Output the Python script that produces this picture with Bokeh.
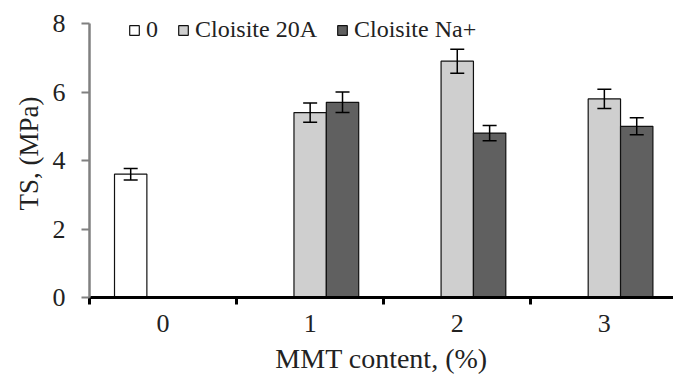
from bokeh.plotting import figure
from bokeh.models import ColumnDataSource, Range1d, FixedTicker, Whisker, TeeHead, Legend, LegendItem
from bokeh.embed import file_html
from bokeh.resources import INLINE

categories = ["0", "1", "2", "3"]
series_names = ["0", "Cloisite 20A", "Cloisite Na+"]
vals_0 = [3.6, None, None, None]
err_0 = [0.17, None, None, None]
vals_20a = [None, 5.4, 6.9, 5.8]
err_20a = [None, 0.28, 0.35, 0.28]
vals_na = [None, 5.7, 4.8, 5.0]
err_na = [None, 0.3, 0.22, 0.25]
colors = ["#ffffff", "#cfcfcf", "#606060"]
offsets = [-0.22, 0.0, 0.22]
bar_w = 0.22

FONT = "Liberation Serif"

p = figure(width=673, height=383, output_backend="svg", toolbar_location=None,
           x_range=Range1d(0, 3.97), y_range=Range1d(0, 8.41),
           min_border_left=89, min_border_right=0, min_border_top=9, min_border_bottom=86)
p.outline_line_color = None
p.xgrid.visible = False
p.ygrid.visible = False
p.background_fill_color = "white"

renderers = []
for vals, errs, col, off in zip([vals_0, vals_20a, vals_na], [err_0, err_20a, err_na], colors, offsets):
    xs, ys, ups, los = [], [], [], []
    for i, (v, e) in enumerate(zip(vals, errs)):
        if v is None:
            continue
        xs.append(i + 0.5 + off)
        ys.append(v)
        ups.append(v + e)
        los.append(v - e)
    src = ColumnDataSource(dict(x=xs, top=ys, upper=ups, lower=los))
    r = p.vbar(x="x", top="top", width=bar_w, source=src, fill_color=col,
               line_color="#111111", line_width=1.2)
    renderers.append(r)
    w = Whisker(base="x", upper="upper", lower="lower", source=src, level="overlay",
                line_color="black", line_width=1.5,
                upper_head=TeeHead(size=14, line_color="black", line_width=1.5),
                lower_head=TeeHead(size=14, line_color="black", line_width=1.5))
    p.add_layout(w)

legend = Legend(items=[LegendItem(label=n, renderers=[r]) for n, r in zip(series_names, renderers)],
                orientation="horizontal", location=(39, 254),
                background_fill_alpha=0, border_line_alpha=0, padding=0, margin=0,
                glyph_width=12, glyph_height=12, label_height=24, label_width=12,
                label_standoff=6, spacing=19,
                label_text_font=FONT, label_text_font_size="24px", label_text_color="#222222")
p.add_layout(legend)

# x axis
p.xaxis.ticker = FixedTicker(ticks=[i + 0.5 for i in range(len(categories))],
                             minor_ticks=[float(i) for i in range(len(categories))])
p.xaxis.major_label_overrides = {i + 0.5: c for i, c in enumerate(categories)}
p.xaxis.major_tick_out = 0
p.xaxis.major_tick_in = 0
p.xaxis.minor_tick_out = 7
p.xaxis.minor_tick_in = 0
p.xaxis.minor_tick_line_color = "black"
p.xaxis.minor_tick_line_width = 3
p.xaxis.axis_line_color = "black"
p.xaxis.axis_line_width = 3
p.xaxis.major_label_standoff = 10
p.xaxis.major_label_text_font = FONT
p.xaxis.major_label_text_font_size = "26px"
p.xaxis.major_label_text_color = "#222222"
p.xaxis.axis_label = "MMT content, (%)"
p.xaxis.axis_label_text_font = FONT
p.xaxis.axis_label_text_font_size = "28px"
p.xaxis.axis_label_text_font_style = "normal"
p.xaxis.axis_label_text_color = "#222222"
p.xaxis.axis_label_standoff = 8

# y axis
p.yaxis.ticker = FixedTicker(ticks=[0, 2, 4, 6, 8], minor_ticks=[])
p.yaxis.bounds = (0, 8)
p.yaxis.axis_line_color = "#808080"
p.yaxis.axis_line_width = 2.5
p.yaxis.major_tick_line_color = "#808080"
p.yaxis.major_tick_line_width = 2
p.yaxis.major_tick_out = 8
p.yaxis.major_tick_in = 0
p.yaxis.minor_tick_out = 0
p.yaxis.major_label_standoff = 16
p.yaxis.major_label_text_font = FONT
p.yaxis.major_label_text_font_size = "26px"
p.yaxis.major_label_text_color = "#222222"
p.yaxis.axis_label = "TS, (MPa)"
p.yaxis.axis_label_text_font = FONT
p.yaxis.axis_label_text_font_size = "27px"
p.yaxis.axis_label_text_font_style = "normal"
p.yaxis.axis_label_text_color = "#222222"
p.yaxis.axis_label_standoff = 6

open("out.html", "w").write(file_html(p, INLINE))
